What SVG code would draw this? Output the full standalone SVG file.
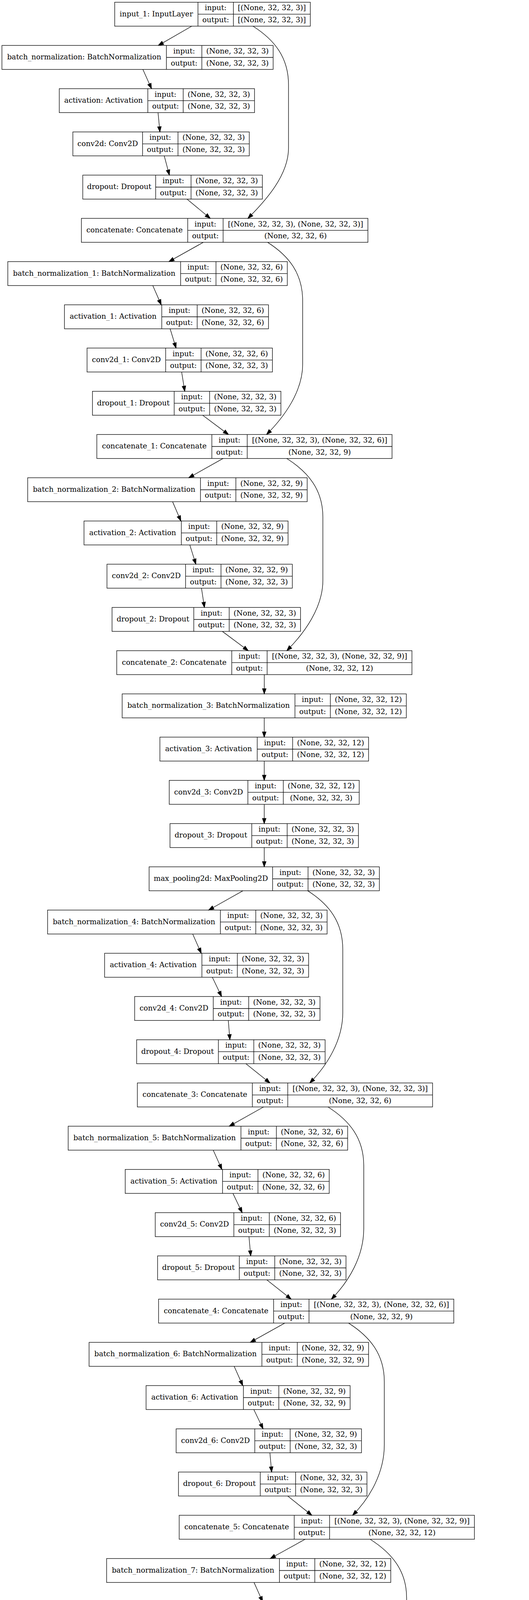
<svg xmlns="http://www.w3.org/2000/svg" width="1355" height="5939" viewBox="0 0 1355 5939">
<style>
.b{fill:#fff;stroke:#000;stroke-width:1.33}
.s{fill:none;stroke:#000;stroke-width:1.33}
.t{font-family:"DejaVu Serif",serif;font-size:18.67px;text-anchor:middle;fill:#000}
.e{fill:none;stroke:#000;stroke-width:1.33;marker-end:url(#ah)}
</style>
<defs>
<marker id="ah" markerUnits="userSpaceOnUse" markerWidth="16" markerHeight="12" viewBox="0 0 16 12" refX="14.67" refY="6" orient="auto"><path d="M1.33,1.33 L14.67,6 L1.33,10.67 Z" fill="#000" stroke="#000" stroke-width="1.33"/></marker>
</defs>
<rect width="1355" height="5939" fill="#fff"/>
<g id="nodes">
<g id="input_1" transform="translate(293.8,5.67)"><rect class="b" width="501" height="61.33"/><path class="s" d="M213.3 0V61.33M304 0V61.33M213.3 30.67H501"/><text class="t" x="106.65" y="36">input_1: InputLayer</text><text class="t" x="258.65" y="20.6">input:</text><text class="t" x="258.65" y="51.3">output:</text><text class="t" x="402.5" y="20.6">[(None, 32, 32, 3)]</text><text class="t" x="402.5" y="51.3">[(None, 32, 32, 3)]</text></g>
<g id="batch_normalization" transform="translate(4.9,116.34)"><rect class="b" width="694.7" height="61.33"/><path class="s" d="M421.4 0V61.33M512.1 0V61.33M421.4 30.67H694.7"/><text class="t" x="210.7" y="36">batch_normalization: BatchNormalization</text><text class="t" x="466.75" y="20.6">input:</text><text class="t" x="466.75" y="51.3">output:</text><text class="t" x="603.4" y="20.6">(None, 32, 32, 3)</text><text class="t" x="603.4" y="51.3">(None, 32, 32, 3)</text></g>
<g id="activation" transform="translate(151.8,227.01)"><rect class="b" width="500.1" height="61.33"/><path class="s" d="M226.8 0V61.33M317.5 0V61.33M226.8 30.67H500.1"/><text class="t" x="113.4" y="36">activation: Activation</text><text class="t" x="272.15" y="20.6">input:</text><text class="t" x="272.15" y="51.3">output:</text><text class="t" x="408.8" y="20.6">(None, 32, 32, 3)</text><text class="t" x="408.8" y="51.3">(None, 32, 32, 3)</text></g>
<g id="conv2d" transform="translate(186.6,337.68)"><rect class="b" width="451.9" height="61.33"/><path class="s" d="M178.6 0V61.33M269.3 0V61.33M178.6 30.67H451.9"/><text class="t" x="89.3" y="36">conv2d: Conv2D</text><text class="t" x="223.95" y="20.6">input:</text><text class="t" x="223.95" y="51.3">output:</text><text class="t" x="360.6" y="20.6">(None, 32, 32, 3)</text><text class="t" x="360.6" y="51.3">(None, 32, 32, 3)</text></g>
<g id="dropout" transform="translate(212,448.35)"><rect class="b" width="460" height="61.33"/><path class="s" d="M186.7 0V61.33M277.4 0V61.33M186.7 30.67H460"/><text class="t" x="93.35" y="36">dropout: Dropout</text><text class="t" x="232.05" y="20.6">input:</text><text class="t" x="232.05" y="51.3">output:</text><text class="t" x="368.7" y="20.6">(None, 32, 32, 3)</text><text class="t" x="368.7" y="51.3">(None, 32, 32, 3)</text></g>
<g id="concatenate" transform="translate(208.5,559.02)"><rect class="b" width="733.9" height="61.33"/><path class="s" d="M272.3 0V61.33M363 0V61.33M272.3 30.67H733.9"/><text class="t" x="136.15" y="36">concatenate: Concatenate</text><text class="t" x="317.65" y="20.6">input:</text><text class="t" x="317.65" y="51.3">output:</text><text class="t" x="548.45" y="20.6">[(None, 32, 32, 3), (None, 32, 32, 3)]</text><text class="t" x="548.45" y="51.3">(None, 32, 32, 6)</text></g>
<g id="batch_normalization_1" transform="translate(20,669.69)"><rect class="b" width="715.9" height="61.33"/><path class="s" d="M442.6 0V61.33M533.3 0V61.33M442.6 30.67H715.9"/><text class="t" x="221.3" y="36">batch_normalization_1: BatchNormalization</text><text class="t" x="487.95" y="20.6">input:</text><text class="t" x="487.95" y="51.3">output:</text><text class="t" x="624.6" y="20.6">(None, 32, 32, 6)</text><text class="t" x="624.6" y="51.3">(None, 32, 32, 6)</text></g>
<g id="activation_1" transform="translate(165.1,780.36)"><rect class="b" width="522.6" height="61.33"/><path class="s" d="M249.3 0V61.33M340 0V61.33M249.3 30.67H522.6"/><text class="t" x="124.65" y="36">activation_1: Activation</text><text class="t" x="294.65" y="20.6">input:</text><text class="t" x="294.65" y="51.3">output:</text><text class="t" x="431.3" y="20.6">(None, 32, 32, 6)</text><text class="t" x="431.3" y="51.3">(None, 32, 32, 6)</text></g>
<g id="conv2d_1" transform="translate(223,891.03)"><rect class="b" width="474.7" height="61.33"/><path class="s" d="M201.4 0V61.33M292.1 0V61.33M201.4 30.67H474.7"/><text class="t" x="100.7" y="36">conv2d_1: Conv2D</text><text class="t" x="246.75" y="20.6">input:</text><text class="t" x="246.75" y="51.3">output:</text><text class="t" x="383.4" y="20.6">(None, 32, 32, 6)</text><text class="t" x="383.4" y="51.3">(None, 32, 32, 3)</text></g>
<g id="dropout_1" transform="translate(236.8,1001.7)"><rect class="b" width="482.7" height="61.33"/><path class="s" d="M209.4 0V61.33M300.1 0V61.33M209.4 30.67H482.7"/><text class="t" x="104.7" y="36">dropout_1: Dropout</text><text class="t" x="254.75" y="20.6">input:</text><text class="t" x="254.75" y="51.3">output:</text><text class="t" x="391.4" y="20.6">(None, 32, 32, 3)</text><text class="t" x="391.4" y="51.3">(None, 32, 32, 3)</text></g>
<g id="concatenate_1" transform="translate(248,1112.37)"><rect class="b" width="756.2" height="61.33"/><path class="s" d="M294.6 0V61.33M385.3 0V61.33M294.6 30.67H756.2"/><text class="t" x="147.3" y="36">concatenate_1: Concatenate</text><text class="t" x="339.95" y="20.6">input:</text><text class="t" x="339.95" y="51.3">output:</text><text class="t" x="570.75" y="20.6">[(None, 32, 32, 3), (None, 32, 32, 6)]</text><text class="t" x="570.75" y="51.3">(None, 32, 32, 9)</text></g>
<g id="batch_normalization_2" transform="translate(70.9,1223.04)"><rect class="b" width="715.9" height="61.33"/><path class="s" d="M442.6 0V61.33M533.3 0V61.33M442.6 30.67H715.9"/><text class="t" x="221.3" y="36">batch_normalization_2: BatchNormalization</text><text class="t" x="487.95" y="20.6">input:</text><text class="t" x="487.95" y="51.3">output:</text><text class="t" x="624.6" y="20.6">(None, 32, 32, 9)</text><text class="t" x="624.6" y="51.3">(None, 32, 32, 9)</text></g>
<g id="activation_2" transform="translate(215.2,1333.71)"><rect class="b" width="522.6" height="61.33"/><path class="s" d="M249.3 0V61.33M340 0V61.33M249.3 30.67H522.6"/><text class="t" x="124.65" y="36">activation_2: Activation</text><text class="t" x="294.65" y="20.6">input:</text><text class="t" x="294.65" y="51.3">output:</text><text class="t" x="431.3" y="20.6">(None, 32, 32, 9)</text><text class="t" x="431.3" y="51.3">(None, 32, 32, 9)</text></g>
<g id="conv2d_2" transform="translate(274,1444.38)"><rect class="b" width="474.7" height="61.33"/><path class="s" d="M201.4 0V61.33M292.1 0V61.33M201.4 30.67H474.7"/><text class="t" x="100.7" y="36">conv2d_2: Conv2D</text><text class="t" x="246.75" y="20.6">input:</text><text class="t" x="246.75" y="51.3">output:</text><text class="t" x="383.4" y="20.6">(None, 32, 32, 9)</text><text class="t" x="383.4" y="51.3">(None, 32, 32, 3)</text></g>
<g id="dropout_2" transform="translate(287,1555.05)"><rect class="b" width="482.7" height="61.33"/><path class="s" d="M209.4 0V61.33M300.1 0V61.33M209.4 30.67H482.7"/><text class="t" x="104.7" y="36">dropout_2: Dropout</text><text class="t" x="254.75" y="20.6">input:</text><text class="t" x="254.75" y="51.3">output:</text><text class="t" x="391.4" y="20.6">(None, 32, 32, 3)</text><text class="t" x="391.4" y="51.3">(None, 32, 32, 3)</text></g>
<g id="concatenate_2" transform="translate(299,1665.72)"><rect class="b" width="756.2" height="61.33"/><path class="s" d="M294.6 0V61.33M385.3 0V61.33M294.6 30.67H756.2"/><text class="t" x="147.3" y="36">concatenate_2: Concatenate</text><text class="t" x="339.95" y="20.6">input:</text><text class="t" x="339.95" y="51.3">output:</text><text class="t" x="570.75" y="20.6">[(None, 32, 32, 3), (None, 32, 32, 9)]</text><text class="t" x="570.75" y="51.3">(None, 32, 32, 12)</text></g>
<g id="batch_normalization_3" transform="translate(312.9,1776.39)"><rect class="b" width="727.8" height="61.33"/><path class="s" d="M442.6 0V61.33M533.3 0V61.33M442.6 30.67H727.8"/><text class="t" x="221.3" y="36">batch_normalization_3: BatchNormalization</text><text class="t" x="487.95" y="20.6">input:</text><text class="t" x="487.95" y="51.3">output:</text><text class="t" x="630.55" y="20.6">(None, 32, 32, 12)</text><text class="t" x="630.55" y="51.3">(None, 32, 32, 12)</text></g>
<g id="activation_3" transform="translate(409.55,1887.06)"><rect class="b" width="534.5" height="61.33"/><path class="s" d="M249.3 0V61.33M340 0V61.33M249.3 30.67H534.5"/><text class="t" x="124.65" y="36">activation_3: Activation</text><text class="t" x="294.65" y="20.6">input:</text><text class="t" x="294.65" y="51.3">output:</text><text class="t" x="437.25" y="20.6">(None, 32, 32, 12)</text><text class="t" x="437.25" y="51.3">(None, 32, 32, 12)</text></g>
<g id="conv2d_3" transform="translate(433.5,1997.73)"><rect class="b" width="486.6" height="61.33"/><path class="s" d="M201.4 0V61.33M292.1 0V61.33M201.4 30.67H486.6"/><text class="t" x="100.7" y="36">conv2d_3: Conv2D</text><text class="t" x="246.75" y="20.6">input:</text><text class="t" x="246.75" y="51.3">output:</text><text class="t" x="389.35" y="20.6">(None, 32, 32, 12)</text><text class="t" x="389.35" y="51.3">(None, 32, 32, 3)</text></g>
<g id="dropout_3" transform="translate(435.45,2108.4)"><rect class="b" width="482.7" height="61.33"/><path class="s" d="M209.4 0V61.33M300.1 0V61.33M209.4 30.67H482.7"/><text class="t" x="104.7" y="36">dropout_3: Dropout</text><text class="t" x="254.75" y="20.6">input:</text><text class="t" x="254.75" y="51.3">output:</text><text class="t" x="391.4" y="20.6">(None, 32, 32, 3)</text><text class="t" x="391.4" y="51.3">(None, 32, 32, 3)</text></g>
<g id="max_pooling2d" transform="translate(381.95,2219.07)"><rect class="b" width="589.7" height="61.33"/><path class="s" d="M316.4 0V61.33M407.1 0V61.33M316.4 30.67H589.7"/><text class="t" x="158.2" y="36">max_pooling2d: MaxPooling2D</text><text class="t" x="361.75" y="20.6">input:</text><text class="t" x="361.75" y="51.3">output:</text><text class="t" x="498.4" y="20.6">(None, 32, 32, 3)</text><text class="t" x="498.4" y="51.3">(None, 32, 32, 3)</text></g>
<g id="batch_normalization_4" transform="translate(121.9,2329.74)"><rect class="b" width="715.9" height="61.33"/><path class="s" d="M442.6 0V61.33M533.3 0V61.33M442.6 30.67H715.9"/><text class="t" x="221.3" y="36">batch_normalization_4: BatchNormalization</text><text class="t" x="487.95" y="20.6">input:</text><text class="t" x="487.95" y="51.3">output:</text><text class="t" x="624.6" y="20.6">(None, 32, 32, 3)</text><text class="t" x="624.6" y="51.3">(None, 32, 32, 3)</text></g>
<g id="activation_4" transform="translate(267.9,2440.41)"><rect class="b" width="522.6" height="61.33"/><path class="s" d="M249.3 0V61.33M340 0V61.33M249.3 30.67H522.6"/><text class="t" x="124.65" y="36">activation_4: Activation</text><text class="t" x="294.65" y="20.6">input:</text><text class="t" x="294.65" y="51.3">output:</text><text class="t" x="431.3" y="20.6">(None, 32, 32, 3)</text><text class="t" x="431.3" y="51.3">(None, 32, 32, 3)</text></g>
<g id="conv2d_4" transform="translate(344.9,2551.08)"><rect class="b" width="474.7" height="61.33"/><path class="s" d="M201.4 0V61.33M292.1 0V61.33M201.4 30.67H474.7"/><text class="t" x="100.7" y="36">conv2d_4: Conv2D</text><text class="t" x="246.75" y="20.6">input:</text><text class="t" x="246.75" y="51.3">output:</text><text class="t" x="383.4" y="20.6">(None, 32, 32, 3)</text><text class="t" x="383.4" y="51.3">(None, 32, 32, 3)</text></g>
<g id="dropout_4" transform="translate(350,2661.75)"><rect class="b" width="482.7" height="61.33"/><path class="s" d="M209.4 0V61.33M300.1 0V61.33M209.4 30.67H482.7"/><text class="t" x="104.7" y="36">dropout_4: Dropout</text><text class="t" x="254.75" y="20.6">input:</text><text class="t" x="254.75" y="51.3">output:</text><text class="t" x="391.4" y="20.6">(None, 32, 32, 3)</text><text class="t" x="391.4" y="51.3">(None, 32, 32, 3)</text></g>
<g id="concatenate_3" transform="translate(351.8,2772.42)"><rect class="b" width="756.2" height="61.33"/><path class="s" d="M294.6 0V61.33M385.3 0V61.33M294.6 30.67H756.2"/><text class="t" x="147.3" y="36">concatenate_3: Concatenate</text><text class="t" x="339.95" y="20.6">input:</text><text class="t" x="339.95" y="51.3">output:</text><text class="t" x="570.75" y="20.6">[(None, 32, 32, 3), (None, 32, 32, 3)]</text><text class="t" x="570.75" y="51.3">(None, 32, 32, 6)</text></g>
<g id="batch_normalization_5" transform="translate(174.6,2883.09)"><rect class="b" width="715.9" height="61.33"/><path class="s" d="M442.6 0V61.33M533.3 0V61.33M442.6 30.67H715.9"/><text class="t" x="221.3" y="36">batch_normalization_5: BatchNormalization</text><text class="t" x="487.95" y="20.6">input:</text><text class="t" x="487.95" y="51.3">output:</text><text class="t" x="624.6" y="20.6">(None, 32, 32, 6)</text><text class="t" x="624.6" y="51.3">(None, 32, 32, 6)</text></g>
<g id="activation_5" transform="translate(320.7,2993.76)"><rect class="b" width="522.6" height="61.33"/><path class="s" d="M249.3 0V61.33M340 0V61.33M249.3 30.67H522.6"/><text class="t" x="124.65" y="36">activation_5: Activation</text><text class="t" x="294.65" y="20.6">input:</text><text class="t" x="294.65" y="51.3">output:</text><text class="t" x="431.3" y="20.6">(None, 32, 32, 6)</text><text class="t" x="431.3" y="51.3">(None, 32, 32, 6)</text></g>
<g id="conv2d_5" transform="translate(397.6,3104.43)"><rect class="b" width="474.7" height="61.33"/><path class="s" d="M201.4 0V61.33M292.1 0V61.33M201.4 30.67H474.7"/><text class="t" x="100.7" y="36">conv2d_5: Conv2D</text><text class="t" x="246.75" y="20.6">input:</text><text class="t" x="246.75" y="51.3">output:</text><text class="t" x="383.4" y="20.6">(None, 32, 32, 6)</text><text class="t" x="383.4" y="51.3">(None, 32, 32, 3)</text></g>
<g id="dropout_5" transform="translate(403.6,3215.1)"><rect class="b" width="482.7" height="61.33"/><path class="s" d="M209.4 0V61.33M300.1 0V61.33M209.4 30.67H482.7"/><text class="t" x="104.7" y="36">dropout_5: Dropout</text><text class="t" x="254.75" y="20.6">input:</text><text class="t" x="254.75" y="51.3">output:</text><text class="t" x="391.4" y="20.6">(None, 32, 32, 3)</text><text class="t" x="391.4" y="51.3">(None, 32, 32, 3)</text></g>
<g id="concatenate_4" transform="translate(406.2,3325.77)"><rect class="b" width="756.2" height="61.33"/><path class="s" d="M294.6 0V61.33M385.3 0V61.33M294.6 30.67H756.2"/><text class="t" x="147.3" y="36">concatenate_4: Concatenate</text><text class="t" x="339.95" y="20.6">input:</text><text class="t" x="339.95" y="51.3">output:</text><text class="t" x="570.75" y="20.6">[(None, 32, 32, 3), (None, 32, 32, 6)]</text><text class="t" x="570.75" y="51.3">(None, 32, 32, 9)</text></g>
<g id="batch_normalization_6" transform="translate(228.2,3436.44)"><rect class="b" width="715.9" height="61.33"/><path class="s" d="M442.6 0V61.33M533.3 0V61.33M442.6 30.67H715.9"/><text class="t" x="221.3" y="36">batch_normalization_6: BatchNormalization</text><text class="t" x="487.95" y="20.6">input:</text><text class="t" x="487.95" y="51.3">output:</text><text class="t" x="624.6" y="20.6">(None, 32, 32, 9)</text><text class="t" x="624.6" y="51.3">(None, 32, 32, 9)</text></g>
<g id="activation_6" transform="translate(374.2,3547.11)"><rect class="b" width="522.6" height="61.33"/><path class="s" d="M249.3 0V61.33M340 0V61.33M249.3 30.67H522.6"/><text class="t" x="124.65" y="36">activation_6: Activation</text><text class="t" x="294.65" y="20.6">input:</text><text class="t" x="294.65" y="51.3">output:</text><text class="t" x="431.3" y="20.6">(None, 32, 32, 9)</text><text class="t" x="431.3" y="51.3">(None, 32, 32, 9)</text></g>
<g id="conv2d_6" transform="translate(451.2,3657.78)"><rect class="b" width="474.7" height="61.33"/><path class="s" d="M201.4 0V61.33M292.1 0V61.33M201.4 30.67H474.7"/><text class="t" x="100.7" y="36">conv2d_6: Conv2D</text><text class="t" x="246.75" y="20.6">input:</text><text class="t" x="246.75" y="51.3">output:</text><text class="t" x="383.4" y="20.6">(None, 32, 32, 9)</text><text class="t" x="383.4" y="51.3">(None, 32, 32, 3)</text></g>
<g id="dropout_6" transform="translate(457.2,3768.45)"><rect class="b" width="482.7" height="61.33"/><path class="s" d="M209.4 0V61.33M300.1 0V61.33M209.4 30.67H482.7"/><text class="t" x="104.7" y="36">dropout_6: Dropout</text><text class="t" x="254.75" y="20.6">input:</text><text class="t" x="254.75" y="51.3">output:</text><text class="t" x="391.4" y="20.6">(None, 32, 32, 3)</text><text class="t" x="391.4" y="51.3">(None, 32, 32, 3)</text></g>
<g id="concatenate_5" transform="translate(459,3879.12)"><rect class="b" width="756.2" height="61.33"/><path class="s" d="M294.6 0V61.33M385.3 0V61.33M294.6 30.67H756.2"/><text class="t" x="147.3" y="36">concatenate_5: Concatenate</text><text class="t" x="339.95" y="20.6">input:</text><text class="t" x="339.95" y="51.3">output:</text><text class="t" x="570.75" y="20.6">[(None, 32, 32, 3), (None, 32, 32, 9)]</text><text class="t" x="570.75" y="51.3">(None, 32, 32, 12)</text></g>
<g id="batch_normalization_7" transform="translate(273.1,3989.79)"><rect class="b" width="727.8" height="61.33"/><path class="s" d="M442.6 0V61.33M533.3 0V61.33M442.6 30.67H727.8"/><text class="t" x="221.3" y="36">batch_normalization_7: BatchNormalization</text><text class="t" x="487.95" y="20.6">input:</text><text class="t" x="487.95" y="51.3">output:</text><text class="t" x="630.55" y="20.6">(None, 32, 32, 12)</text><text class="t" x="630.55" y="51.3">(None, 32, 32, 12)</text></g>
<g id="activation_7" transform="translate(419.2,4100.46)"><rect class="b" width="534.5" height="61.33"/><path class="s" d="M249.3 0V61.33M340 0V61.33M249.3 30.67H534.5"/><text class="t" x="124.65" y="36">activation_7: Activation</text><text class="t" x="294.65" y="20.6">input:</text><text class="t" x="294.65" y="51.3">output:</text><text class="t" x="437.25" y="20.6">(None, 32, 32, 12)</text><text class="t" x="437.25" y="51.3">(None, 32, 32, 12)</text></g>
<g id="conv2d_7" transform="translate(503,4211.13)"><rect class="b" width="486.6" height="61.33"/><path class="s" d="M201.4 0V61.33M292.1 0V61.33M201.4 30.67H486.6"/><text class="t" x="100.7" y="36">conv2d_7: Conv2D</text><text class="t" x="246.75" y="20.6">input:</text><text class="t" x="246.75" y="51.3">output:</text><text class="t" x="389.35" y="20.6">(None, 32, 32, 12)</text><text class="t" x="389.35" y="51.3">(None, 32, 32, 3)</text></g>
<g id="dropout_7" transform="translate(517.7,4321.8)"><rect class="b" width="482.7" height="61.33"/><path class="s" d="M209.4 0V61.33M300.1 0V61.33M209.4 30.67H482.7"/><text class="t" x="104.7" y="36">dropout_7: Dropout</text><text class="t" x="254.75" y="20.6">input:</text><text class="t" x="254.75" y="51.3">output:</text><text class="t" x="391.4" y="20.6">(None, 32, 32, 3)</text><text class="t" x="391.4" y="51.3">(None, 32, 32, 3)</text></g>
<g id="concatenate_6" transform="translate(514.3,4432.47)"><rect class="b" width="767.8" height="61.33"/><path class="s" d="M294.6 0V61.33M385.3 0V61.33M294.6 30.67H767.8"/><text class="t" x="147.3" y="36">concatenate_6: Concatenate</text><text class="t" x="339.95" y="20.6">input:</text><text class="t" x="339.95" y="51.3">output:</text><text class="t" x="576.55" y="20.6">[(None, 32, 32, 3), (None, 32, 32, 12)]</text><text class="t" x="576.55" y="51.3">(None, 32, 32, 15)</text></g>
<g id="batch_normalization_8" transform="translate(333.6,4543.14)"><rect class="b" width="727.8" height="61.33"/><path class="s" d="M442.6 0V61.33M533.3 0V61.33M442.6 30.67H727.8"/><text class="t" x="221.3" y="36">batch_normalization_8: BatchNormalization</text><text class="t" x="487.95" y="20.6">input:</text><text class="t" x="487.95" y="51.3">output:</text><text class="t" x="630.55" y="20.6">(None, 32, 32, 15)</text><text class="t" x="630.55" y="51.3">(None, 32, 32, 15)</text></g>
<g id="activation_8" transform="translate(479.7,4653.81)"><rect class="b" width="534.5" height="61.33"/><path class="s" d="M249.3 0V61.33M340 0V61.33M249.3 30.67H534.5"/><text class="t" x="124.65" y="36">activation_8: Activation</text><text class="t" x="294.65" y="20.6">input:</text><text class="t" x="294.65" y="51.3">output:</text><text class="t" x="437.25" y="20.6">(None, 32, 32, 15)</text><text class="t" x="437.25" y="51.3">(None, 32, 32, 15)</text></g>
<g id="conv2d_8" transform="translate(564.4,4764.48)"><rect class="b" width="486.6" height="61.33"/><path class="s" d="M201.4 0V61.33M292.1 0V61.33M201.4 30.67H486.6"/><text class="t" x="100.7" y="36">conv2d_8: Conv2D</text><text class="t" x="246.75" y="20.6">input:</text><text class="t" x="246.75" y="51.3">output:</text><text class="t" x="389.35" y="20.6">(None, 32, 32, 15)</text><text class="t" x="389.35" y="51.3">(None, 32, 32, 3)</text></g>
<g id="dropout_8" transform="translate(579.1,4875.15)"><rect class="b" width="482.7" height="61.33"/><path class="s" d="M209.4 0V61.33M300.1 0V61.33M209.4 30.67H482.7"/><text class="t" x="104.7" y="36">dropout_8: Dropout</text><text class="t" x="254.75" y="20.6">input:</text><text class="t" x="254.75" y="51.3">output:</text><text class="t" x="391.4" y="20.6">(None, 32, 32, 3)</text><text class="t" x="391.4" y="51.3">(None, 32, 32, 3)</text></g>
<g id="concatenate_7" transform="translate(575.6,4985.82)"><rect class="b" width="767.8" height="61.33"/><path class="s" d="M294.6 0V61.33M385.3 0V61.33M294.6 30.67H767.8"/><text class="t" x="147.3" y="36">concatenate_7: Concatenate</text><text class="t" x="339.95" y="20.6">input:</text><text class="t" x="339.95" y="51.3">output:</text><text class="t" x="576.55" y="20.6">[(None, 32, 32, 3), (None, 32, 32, 15)]</text><text class="t" x="576.55" y="51.3">(None, 32, 32, 18)</text></g>
<g id="batch_normalization_9" transform="translate(595.6,5096.49)"><rect class="b" width="727.8" height="61.33"/><path class="s" d="M442.6 0V61.33M533.3 0V61.33M442.6 30.67H727.8"/><text class="t" x="221.3" y="36">batch_normalization_9: BatchNormalization</text><text class="t" x="487.95" y="20.6">input:</text><text class="t" x="487.95" y="51.3">output:</text><text class="t" x="630.55" y="20.6">(None, 32, 32, 18)</text><text class="t" x="630.55" y="51.3">(None, 32, 32, 18)</text></g>
<g id="activation_9" transform="translate(692.25,5207.16)"><rect class="b" width="534.5" height="61.33"/><path class="s" d="M249.3 0V61.33M340 0V61.33M249.3 30.67H534.5"/><text class="t" x="124.65" y="36">activation_9: Activation</text><text class="t" x="294.65" y="20.6">input:</text><text class="t" x="294.65" y="51.3">output:</text><text class="t" x="437.25" y="20.6">(None, 32, 32, 18)</text><text class="t" x="437.25" y="51.3">(None, 32, 32, 18)</text></g>
<g id="conv2d_9" transform="translate(716.2,5317.83)"><rect class="b" width="486.6" height="61.33"/><path class="s" d="M201.4 0V61.33M292.1 0V61.33M201.4 30.67H486.6"/><text class="t" x="100.7" y="36">conv2d_9: Conv2D</text><text class="t" x="246.75" y="20.6">input:</text><text class="t" x="246.75" y="51.3">output:</text><text class="t" x="389.35" y="20.6">(None, 32, 32, 18)</text><text class="t" x="389.35" y="51.3">(None, 32, 32, 3)</text></g>
<g id="dropout_9" transform="translate(718.15,5428.5)"><rect class="b" width="482.7" height="61.33"/><path class="s" d="M209.4 0V61.33M300.1 0V61.33M209.4 30.67H482.7"/><text class="t" x="104.7" y="36">dropout_9: Dropout</text><text class="t" x="254.75" y="20.6">input:</text><text class="t" x="254.75" y="51.3">output:</text><text class="t" x="391.4" y="20.6">(None, 32, 32, 3)</text><text class="t" x="391.4" y="51.3">(None, 32, 32, 3)</text></g>
<g id="average_pooling2d" transform="translate(628.35,5539.17)"><rect class="b" width="662.3" height="61.33"/><path class="s" d="M389 0V61.33M479.7 0V61.33M389 30.67H662.3"/><text class="t" x="194.5" y="36">average_pooling2d: AveragePooling2D</text><text class="t" x="434.35" y="20.6">input:</text><text class="t" x="434.35" y="51.3">output:</text><text class="t" x="571" y="20.6">(None, 32, 32, 3)</text><text class="t" x="571" y="51.3">(None, 7, 7, 3)</text></g>
<g id="conv2d_10" transform="translate(722.25,5649.84)"><rect class="b" width="474.5" height="61.33"/><path class="s" d="M213.5 0V61.33M304.2 0V61.33M213.5 30.67H474.5"/><text class="t" x="106.75" y="36">conv2d_10: Conv2D</text><text class="t" x="258.85" y="20.6">input:</text><text class="t" x="258.85" y="51.3">output:</text><text class="t" x="389.35" y="20.6">(None, 7, 7, 3)</text><text class="t" x="389.35" y="51.3">(None, 2, 2, 18)</text></g>
<g id="global_average_pooling2d" transform="translate(569.75,5760.51)"><rect class="b" width="779.5" height="61.33"/><path class="s" d="M518.5 0V61.33M609.2 0V61.33M518.5 30.67H779.5"/><text class="t" x="259.25" y="36">global_average_pooling2d: GlobalAveragePooling2D</text><text class="t" x="563.85" y="20.6">input:</text><text class="t" x="563.85" y="51.3">output:</text><text class="t" x="694.35" y="20.6">(None, 2, 2, 18)</text><text class="t" x="694.35" y="51.3">(None, 18)</text></g>
<g id="dense" transform="translate(778.45,5871.18)"><rect class="b" width="362.1" height="61.33"/><path class="s" d="M148.7 0V61.33M239.4 0V61.33M148.7 30.67H362.1"/><text class="t" x="74.35" y="36">dense: Dense</text><text class="t" x="194.05" y="20.6">input:</text><text class="t" x="194.05" y="51.3">output:</text><text class="t" x="300.75" y="20.6">(None, 18)</text><text class="t" x="300.75" y="51.3">(None, 10)</text></g>
</g>
<g id="edges">
<path class="e" d="M491.1,67 L405.45,116.34"/>
<path class="e" d="M366,177.67 L388.11,227.01"/>
<path class="e" d="M404.81,288.34 L409.59,337.68"/>
<path class="e" d="M420.71,399.01 L433.84,448.35"/>
<path class="e" d="M478.97,509.68 L538.48,559.02"/>
<path class="e" d="M520.74,620.35 L432.66,669.69"/>
<path class="e" d="M391.37,731.02 L412.98,780.36"/>
<path class="e" d="M435.8,841.69 L450.95,891.03"/>
<path class="e" d="M465.28,952.36 L473.22,1001.7"/>
<path class="e" d="M519.13,1063.03 L585.12,1112.37"/>
<path class="e" d="M571.46,1173.7 L483.49,1223.04"/>
<path class="e" d="M442.05,1284.37 L463.3,1333.71"/>
<path class="e" d="M486.15,1395.04 L501.7,1444.38"/>
<path class="e" d="M516.06,1505.71 L523.64,1555.05"/>
<path class="e" d="M569.55,1616.38 L635.9,1665.72"/>
<path class="e" d="M677,1727.05 L676.9,1776.39"/>
<path class="e" d="M676.8,1837.72 L676.8,1887.06"/>
<path class="e" d="M676.8,1948.39 L676.8,1997.73"/>
<path class="e" d="M676.8,2059.06 L676.8,2108.4"/>
<path class="e" d="M676.8,2169.73 L676.8,2219.07"/>
<path class="e" d="M622.25,2280.4 L534.41,2329.74"/>
<path class="e" d="M493.52,2391.07 L515.53,2440.41"/>
<path class="e" d="M543.89,2501.74 L567.56,2551.08"/>
<path class="e" d="M584.77,2612.41 L588.83,2661.75"/>
<path class="e" d="M629.73,2723.08 L691.52,2772.42"/>
<path class="e" d="M675.23,2833.75 L587.22,2883.09"/>
<path class="e" d="M546.25,2944.42 L568.3,2993.76"/>
<path class="e" d="M596.67,3055.09 L620.28,3104.43"/>
<path class="e" d="M637.72,3165.76 L642.18,3215.1"/>
<path class="e" d="M683.55,3276.43 L745.7,3325.77"/>
<path class="e" d="M729.41,3387.1 L641.04,3436.44"/>
<path class="e" d="M599.82,3497.77 L621.83,3547.11"/>
<path class="e" d="M650.19,3608.44 L673.86,3657.78"/>
<path class="e" d="M691.32,3719.11 L695.78,3768.45"/>
<path class="e" d="M736.93,3829.78 L798.72,3879.12"/>
<path class="e" d="M781.67,3940.45 L692.43,3989.79"/>
<path class="e" d="M650.7,4051.12 L672.75,4100.46"/>
<path class="e" d="M703.03,4161.79 L729.72,4211.13"/>
<path class="e" d="M749.83,4272.46 L755.52,4321.8"/>
<path class="e" d="M797.59,4383.13 L859.66,4432.47"/>
<path class="e" d="M842.61,4493.8 L753.09,4543.14"/>
<path class="e" d="M711.2,4604.47 L733.25,4653.81"/>
<path class="e" d="M763.78,4715.14 L790.87,4764.48"/>
<path class="e" d="M811.23,4825.81 L816.92,4875.15"/>
<path class="e" d="M858.97,4936.48 L920.98,4985.82"/>
<path class="e" d="M959.5,5047.15 L959.5,5096.49"/>
<path class="e" d="M959.5,5157.82 L959.5,5207.16"/>
<path class="e" d="M959.5,5268.49 L959.5,5317.83"/>
<path class="e" d="M959.5,5379.16 L959.5,5428.5"/>
<path class="e" d="M959.5,5489.83 L959.5,5539.17"/>
<path class="e" d="M959.5,5600.5 L959.5,5649.84"/>
<path class="e" d="M959.5,5711.17 L959.5,5760.51"/>
<path class="e" d="M959.5,5821.84 L959.5,5871.18"/>
<path class="e" d="M648,67 C703,102 739,147 739,217 L739,379.02 C739,449.02 680,514.02 635,559.02"/>
<path class="e" d="M685.4,620.35 C740.4,655.35 775.3,700.35 775.3,770.35 L775.3,932.37 C775.3,1002.37 727.8,1067.37 682.8,1112.37"/>
<path class="e" d="M734.6,1173.7 C789.6,1208.7 827,1253.7 827,1323.7 L827,1485.72 C827,1555.72 779.6,1620.72 734.6,1665.72"/>
<path class="e" d="M788.2,2280.4 C843.2,2315.4 878,2360.4 878,2430.4 L878,2592.42 C878,2662.42 838.4,2727.42 793.4,2772.42"/>
<path class="e" d="M840.1,2833.75 C895.1,2868.75 931.7,2913.75 931.7,2983.75 L931.7,3145.77 C931.7,3215.77 893.7,3280.77 848.7,3325.77"/>
<path class="e" d="M892.8,3387.1 C947.8,3422.1 984.4,3467.1 984.4,3537.1 L984.4,3699.12 C984.4,3769.12 948.2,3834.12 903.2,3879.12"/>
<path class="e" d="M948.1,3940.45 C1003.1,3975.45 1041.5,4020.45 1041.5,4090.45 L1041.5,4252.47 C1041.5,4322.47 1008.7,4387.47 963.7,4432.47"/>
<path class="e" d="M1011.2,4493.8 C1066.2,4528.8 1102,4573.8 1102,4643.8 L1102,4805.82 C1102,4875.82 1069.2,4940.82 1024.2,4985.82"/>
</g>
</svg>
